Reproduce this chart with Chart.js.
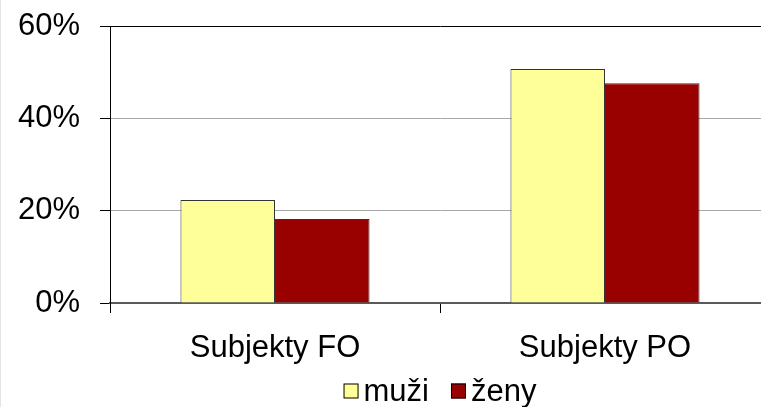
<!DOCTYPE html>
<html>
<head>
<meta charset="utf-8">
<script src="https://cdn.jsdelivr.net/npm/chart.js@4"></script>
<style>
  html, body { margin: 0; padding: 0; background: #fff; overflow: hidden; }
  #wrap { position: relative; width: 761px; height: 407px; overflow: hidden; }
  #edge { position: absolute; left: 0; top: 0; width: 1px; height: 407px; background: #e4e4e4; }
</style>
</head>
<body>
<div id="wrap">
  <canvas id="chart" width="770" height="407"></canvas>
  <div id="edge"></div>
</div>
<script>
// chart data (in %)
var categories = ['Subjekty FO', 'Subjekty PO'];
var seriesNames = ['muži', 'ženy'];
var muzi = [22.3, 50.7];
var zeny = [18.2, 47.6];
var yTicks = [0, 20, 40, 60];
var seriesColors = ['#FFFF99', '#990000'];

var FONT = '"Liberation Sans", Arial, sans-serif';

// legend drawn below the axis, boxes close to the text like the original
var bottomLegend = {
    id: 'bottomLegend',
    afterDraw: function (chart) {
        var ctx = chart.ctx;
        var area = chart.chartArea;
        ctx.save();
        ctx.font = '31px ' + FONT;
        ctx.textBaseline = 'middle';
        var box = 15, gap = 5, spacing = 22;
        var items = chart.data.datasets.map(function (ds) {
            return { text: ds.label, color: ds.backgroundColor, w: ctx.measureText(ds.label).width };
        });
        var total = 0;
        items.forEach(function (it, i) {
            total += box + gap + it.w + (i > 0 ? spacing : 0);
        });
        var x = (area.left + area.right) / 2 - total / 2;
        var y = 391;
        items.forEach(function (it) {
            ctx.fillStyle = it.color;
            ctx.fillRect(x, y - box / 2, box, box);
            ctx.strokeStyle = '#000';
            ctx.lineWidth = 1;
            ctx.strokeRect(x + 0.5, y - box / 2 + 0.5, box - 1, box - 1);
            ctx.fillStyle = '#000';
            ctx.fillText(it.text, x + box + gap, y + 1);
            x += box + gap + it.w + spacing;
        });
        ctx.restore();
    }
};

var ctx = document.getElementById('chart').getContext('2d');

var chart = new Chart(ctx, {
    type: 'bar',
    data: {
        labels: categories,
        datasets: [
            { label: seriesNames[0], data: muzi, backgroundColor: seriesColors[0] },
            { label: seriesNames[1], data: zeny, backgroundColor: seriesColors[1] }
        ]
    },
    options: {
        responsive: false,
        animation: false,
        devicePixelRatio: 1,
        layout: { padding: { top: 26, right: 0, bottom: 37, left: 0 } },
        datasets: {
            bar: {
                categoryPercentage: 0.573,
                barPercentage: 1,
                borderColor: '#333',
                borderWidth: 1
            }
        },
        plugins: {
            legend: { display: false },
            tooltip: { enabled: false }
        },
        scales: {
            x: {
                offset: true,
                grid: {
                    display: true,
                    offset: true,
                    drawOnChartArea: false,
                    tickLength: 10,
                    tickColor: '#000'
                },
                border: { color: '#5a5a5a', width: 2 },
                ticks: {
                    color: '#000',
                    font: { family: FONT, size: 31 },
                    padding: 17,
                    maxRotation: 0
                },
                afterFit: function (scale) {
                    scale.height = 67;
                    scale.paddingLeft = 0;
                    scale.paddingRight = 0;
                }
            },
            y: {
                min: 0,
                max: 60,
                afterBuildTicks: function (scale) {
                    scale.ticks = yTicks.map(function (v) { return { value: v }; });
                },
                grid: {
                    color: function (c) { return c.tick && c.tick.value === 60 ? '#000' : '#a8a8a8'; },
                    tickLength: 10,
                    tickColor: '#000'
                },
                border: { color: '#000', width: 1 },
                ticks: {
                    color: '#000',
                    font: { family: FONT, size: 31 },
                    padding: 20,
                    callback: function (v) { return v + '%'; }
                },
                afterFit: function (scale) {
                    scale.width = 110;
                    scale.paddingTop = 0;
                    scale.paddingBottom = 0;
                }
            }
        }
    },
    plugins: [bottomLegend]
});
</script>
</body>
</html>
